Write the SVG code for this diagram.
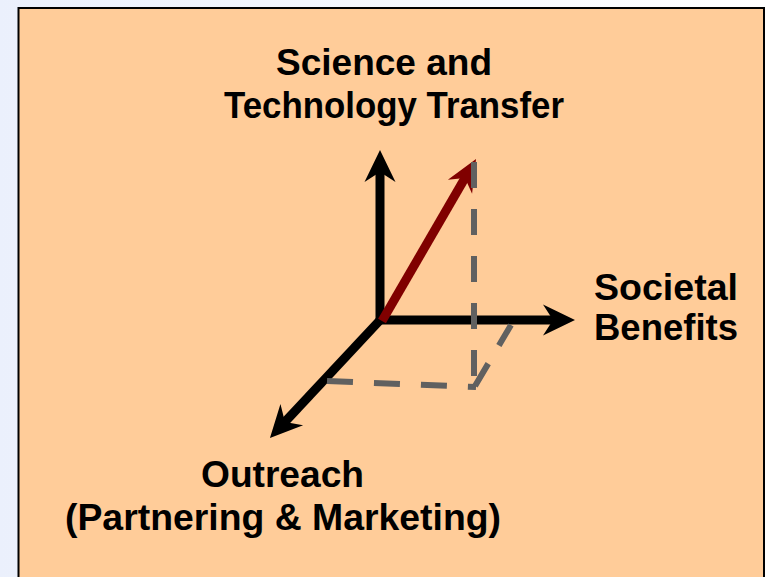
<svg xmlns="http://www.w3.org/2000/svg" width="766" height="577" viewBox="0 0 766 577">
  <style>
    .label { font-family: "Liberation Sans", Arial, sans-serif; font-weight: bold; font-size: 37px; fill: #000; }
    .axis { stroke: #000; stroke-width: 9; fill: none; }
    .vector { stroke: #800000; stroke-width: 9; fill: none; }
    .proj { stroke: #606060; stroke-width: 6; fill: none; stroke-dasharray: 26 21; }
  </style>
  <defs>
    <linearGradient id="bg" x1="0" y1="0" x2="1" y2="0">
      <stop offset="0" stop-color="#EBF0FC"/>
      <stop offset="1" stop-color="#FFFFFF"/>
    </linearGradient>
    <!-- stealth-style arrowheads; the path end sits 20 units behind the tip -->
    <marker id="head-black" markerUnits="userSpaceOnUse" orient="auto" overflow="visible" markerWidth="40" markerHeight="40" refX="0" refY="0">
      <path d="M20,0 L-12,-15.5 L-2,0 L-12,15.5 Z" fill="#000"/>
    </marker>
    <marker id="head-red" markerUnits="userSpaceOnUse" orient="auto" overflow="visible" markerWidth="40" markerHeight="40" refX="0" refY="0">
      <path d="M20,0 L-12,-14 L-2,0 L-12,14 Z" fill="#800000"/>
    </marker>
  </defs>

  <!-- page background and panel -->
  <rect x="0" y="0" width="766" height="577" fill="url(#bg)"/>
  <rect x="18.5" y="8" width="745.5" height="580" fill="#FFCC99" stroke="#000" stroke-width="2"/>

  <g id="connectors">
    <!-- coordinate axes -->
    <path class="axis" d="M380,324 V170" marker-end="url(#head-black)"/>
    <path class="axis" d="M376,320 H555" marker-end="url(#head-black)"/>
    <path class="axis" d="M382,318 L283.6,423.4" marker-end="url(#head-black)"/>
    <!-- resultant vector -->
    <path class="vector" d="M382,321 L466,176.3" marker-end="url(#head-red)"/>
    <!-- projection guides -->
    <path class="proj" d="M474,162 V387"/>
    <path class="proj" d="M327,381 L476,387"/>
    <path class="proj" d="M475,386 L511,325"/>
  </g>

  <g id="science-technology">
    <text class="label" x="276" y="75" textLength="216" lengthAdjust="spacingAndGlyphs">Science and</text>
    <text class="label" x="224" y="118" textLength="340" lengthAdjust="spacingAndGlyphs">Technology Transfer</text>
  </g>
  <g id="societal-benefits">
    <text class="label" x="594" y="300" textLength="144" lengthAdjust="spacingAndGlyphs">Societal</text>
    <text class="label" x="594" y="340" textLength="144" lengthAdjust="spacingAndGlyphs">Benefits</text>
  </g>
  <g id="outreach">
    <text class="label" x="201" y="487" textLength="163" lengthAdjust="spacingAndGlyphs">Outreach</text>
    <text class="label" x="65" y="530" textLength="436" lengthAdjust="spacingAndGlyphs">(Partnering &amp; Marketing)</text>
  </g>
</svg>
